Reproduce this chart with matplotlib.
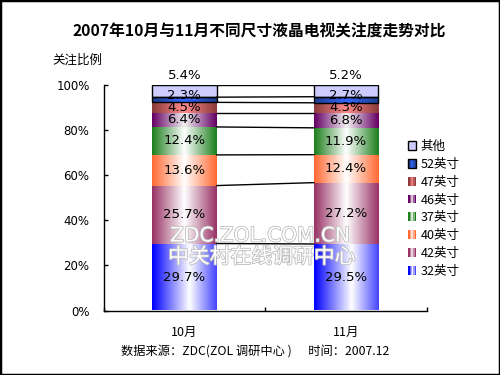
import numpy as np
import matplotlib
matplotlib.use("Agg")
import matplotlib.pyplot as plt
import matplotlib.patheffects as pe
from matplotlib.colors import to_rgb
from matplotlib.patches import Rectangle
from matplotlib.legend_handler import HandlerBase

plt.rcParams['font.family'] = ['Noto Sans CJK SC', 'DejaVu Sans']

months = ["10月", "11月"]
sizes = ["32英寸", "42英寸", "40英寸", "37英寸", "46英寸", "47英寸", "52英寸", "其他"]
oct_vals = [29.7, 25.7, 13.6, 12.4, 6.4, 4.5, 2.3, 5.4]
nov_vals = [29.5, 27.2, 12.4, 11.9, 6.8, 4.3, 2.7, 5.2]
yticks = [0, 20, 40, 60, 80, 100]

# edge colour, centre colour, where the light part sits across the bar
styles = [
    ("#0000FF", "#FFFFFF", 0.58),
    ("#993366", "#FFFFFF", 0.5),
    ("#FF6A33", "#FFFFFF", 0.5),
    ("#1E801E", "#FFFFFF", 0.5),
    ("#660066", "#F2F2F2", 0.5),
    ("#8C3A3A", "#FF8C8C", 0.5),
    ("#1F3C8C", "#3366FF", 0.5),
    ("#CCCCFF", "#CCCCFF", 0.5),
]


def gradient(edge, centre, c, n=64):
    u = np.linspace(0, 1, n)
    w = 1 - np.abs(u - c) / max(c, 1 - c)
    e, m = np.array(to_rgb(edge)), np.array(to_rgb(centre))
    return e[None, :] * (1 - w[:, None]) + m[None, :] * w[:, None]


class GradHandler(HandlerBase):
    def create_artists(self, legend, orig, x0, y0, width, height, fontsize, trans):
        edge, centre, c = orig.grad
        cols = gradient(edge, centre, c, 6)
        arts = []
        for i, col in enumerate(cols):
            arts.append(Rectangle((x0 + i * width / 6, y0), width / 6, height,
                                  facecolor=col, edgecolor='none', transform=trans))
        if orig.boxed:
            arts.append(Rectangle((x0, y0), width, height, facecolor='none',
                                  edgecolor='black', lw=1, transform=trans))
        return arts


fig = plt.figure(figsize=(5, 3.75), dpi=100)
fig.patches.append(Rectangle((0, 0), 1, 1, transform=fig.transFigure, fill=False,
                             edgecolor='black', lw=2.5))
ax = fig.add_axes([103.5 / 500, (375 - 310.5) / 375, (427 - 103.5) / 500, (310.5 - 85) / 375])

bar_w = 0.4
data = np.array([oct_vals, nov_vals])
cum = np.cumsum(data, axis=1)
x = np.arange(len(months))

for i in range(len(months)):
    bottom = 0
    for j, v in enumerate(data[i]):
        edge, centre, c = styles[j]
        img = gradient(edge, centre, c)[None, :, :]
        ax.imshow(img, extent=(x[i] - bar_w / 2, x[i] + bar_w / 2, bottom, bottom + v),
                  aspect='auto', interpolation='bilinear', zorder=2)
        if j >= 6:
            ax.add_patch(Rectangle((x[i] - bar_w / 2, bottom), bar_w, v, fill=False,
                                   edgecolor='black', lw=1, zorder=3))
        yc = bottom + v / 2
        dy = 0
        if j == 6:
            dy = 3
        if j == 7:
            yc = bottom + v
            dy = 7
        ax.annotate(f"{v:.1f}%", (x[i], yc), xytext=(0, dy), textcoords='offset points',
                    ha='center', va='center', fontsize=9.5, zorder=5,
                    family=['DejaVu Sans'])
        bottom += v

# series lines between the bars
for k in range(len(sizes)):
    ax.plot([x[0] + bar_w / 2, x[1] - bar_w / 2], [cum[0, k], cum[1, k]],
            color='black', lw=1, zorder=3)

ax.set_xlim(-0.5, 1.5)
ax.set_ylim(0, 100)
ax.set_yticks(yticks)
ax.set_yticklabels([f"{t}%" for t in yticks], fontsize=8.5, family=['DejaVu Sans'])
ax.set_xticks([-0.5, 0.5, 1.5])
ax.set_xticklabels([])
ax.set_xticks(x, minor=True)
ax.set_xticklabels(months, minor=True, fontsize=9)
ax.tick_params(axis='both', which='major', direction='in', length=3, width=1)
ax.tick_params(axis='x', which='minor', length=0, pad=11)
ax.tick_params(axis='y', pad=10)
for s in ['top', 'right']:
    ax.spines[s].set_visible(False)
for s in ['left', 'bottom']:
    ax.spines[s].set_linewidth(1)

# legend, top entry first
handles = []
for j in range(len(sizes) - 1, -1, -1):
    h = Rectangle((0, 0), 1, 1)
    h.grad = styles[j]
    h.boxed = j >= 6
    h.set_label(sizes[j])
    handles.append(h)
fig.legend(handles=handles, handler_map={Rectangle: GradHandler()},
           loc='upper left', bbox_to_anchor=(402 / 500, 1 - 134 / 375),
           frameon=False, fontsize=9, handlelength=0.6, handleheight=0.7,
           handletextpad=0.4, labelspacing=0.38, borderpad=0)

fig.text(259 / 500, 1 - 31 / 375, "2007年10月与11月不同尺寸液晶电视关注度走势对比",
         ha='center', va='center', fontsize=11.3, fontweight='bold')
fig.text(52 / 500, 1 - 60 / 375, "关注比例", ha='left', va='center', fontsize=9)
fig.text(255 / 500, 1 - 351 / 375, "数据来源：ZDC(ZOL 调研中心 )      时间：2007.12",
         ha='center', va='center', fontsize=8.8)

wm = [pe.withStroke(linewidth=1.2, foreground='#BDBDBD')]
fig.text(260 / 500, 1 - 236 / 375, "ZDC.ZOL.COM.CN", ha='center', va='center',
         fontsize=14.5, color='white', path_effects=wm, zorder=10, family=['DejaVu Sans'])
fig.text(262 / 500, 1 - 257 / 375, "中关村在线调研中心", ha='center', va='center',
         fontsize=15, color='white', path_effects=wm, zorder=10)

fig.savefig("out.png", dpi=100)
